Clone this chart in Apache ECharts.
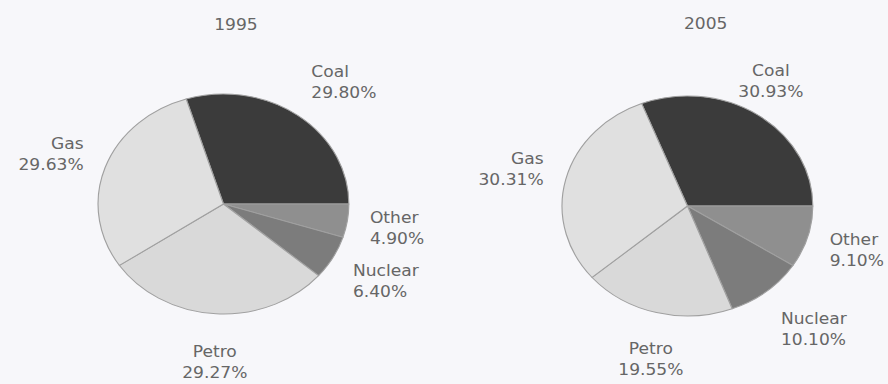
<!DOCTYPE html>
<html>
<head>
<meta charset="utf-8">
<script src="https://cdn.jsdelivr.net/npm/echarts@6/dist/echarts.min.js"></script>
<style>
  html, body { margin: 0; padding: 0; background: #f7f7fa; overflow: hidden; }
  /* the source picture is stretched sideways, so draw narrower and stretch */
  #main { width: 779px; height: 384px; transform: scaleX(1.14); transform-origin: 0 0; }
</style>
</head>
<body>
<div id="main"></div>
<script>
var categories = ['Coal', 'Other', 'Nuclear', 'Petro', 'Gas'];
var values1995 = [29.80, 4.90, 6.40, 29.27, 29.63];
var values2005 = [30.93, 9.10, 10.10, 19.55, 30.31];
var years = ['1995', '2005'];

var sliceColors = ['#3b3b3b', '#8f8f8f', '#7c7c7c', '#d9d9d9', '#e0e0e0'];
var startAngles = [107.3, 111.4];
var allValues = [values1995, values2005];

var chart = echarts.init(document.getElementById('main'), null, { renderer: 'svg' });

function toData(vals) {
  return categories.map(function (name, i) {
    return { name: name, value: vals[i], itemStyle: { color: sliceColors[i] } };
  });
}

// middle angle of a slice, in radians, counter-clockwise from 3 o'clock
function midAngle(seriesIndex, i) {
  var vals = allValues[seriesIndex];
  var total = vals.reduce(function (a, b) { return a + b; }, 0);
  var before = 0;
  for (var j = 0; j < i; j++) before += vals[j];
  return (startAngles[seriesIndex] - (before + vals[i] / 2) / total * 360) * Math.PI / 180;
}

function pieSeries(idx, center) {
  return {
    type: 'pie',
    name: years[idx],
    radius: 110,
    center: center,
    startAngle: startAngles[idx],
    clockwise: true,
    avoidLabelOverlap: false,
    silent: true,
    itemStyle: { borderColor: '#a0a0a0', borderWidth: 1 },
    label: {
      show: true,
      position: 'outside',
      distanceToLabelLine: 0,
      fontFamily: 'DejaVu Sans',
      fontSize: 15,
      lineHeight: 21,
      color: '#666',
      formatter: function (p) {
        return p.name + '\n' + p.value.toFixed(2) + '%';
      }
    },
    labelLine: { show: false, length: 20, length2: 0 },
    labelLayout: function (p) {
      var a = midAngle(p.seriesIndex, p.dataIndex);
      var s = Math.sin(a);
      // push labels outwards by half their height, a bit more below the pie
      return {
        align: Math.abs(Math.cos(a)) < 0.58 ? 'center' : p.align,
        dy: -s * p.labelRect.height / 2 * (s < 0 ? 1.35 : 1)
      };
    },
    data: toData(allValues[idx])
  };
}

var titleStyle = { fontFamily: 'DejaVu Sans', fontSize: 15, fontWeight: 'normal', color: '#666' };

var option = {
  backgroundColor: '#f7f7fa',
  animation: false,
  title: [
    { text: years[0], left: 202, top: 12, textAlign: 'center', textStyle: titleStyle },
    { text: years[1], left: 614, top: 11, textAlign: 'center', textStyle: titleStyle }
  ],
  series: [
    pieSeries(0, [196, 204]),
    pieSeries(1, [603, 206])
  ]
};

chart.setOption(option);
</script>
</body>
</html>
